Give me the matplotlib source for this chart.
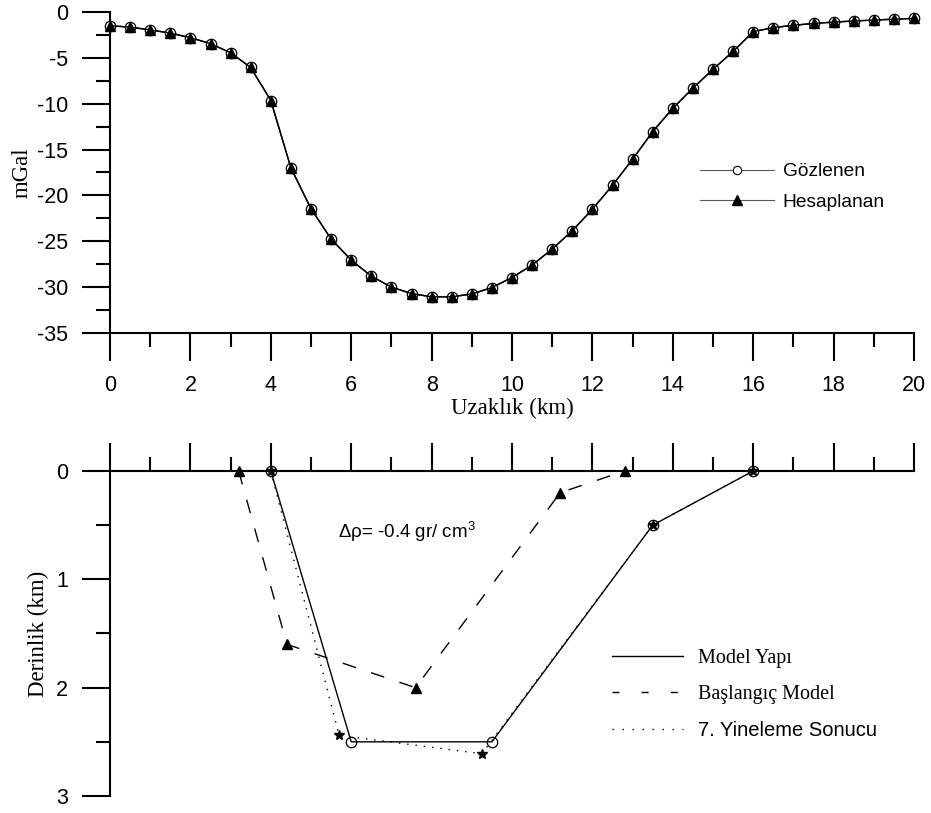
import matplotlib
matplotlib.use('Agg')
import matplotlib.pyplot as plt
from matplotlib.ticker import MultipleLocator, NullFormatter
from matplotlib.lines import Line2D

# ---------------- data ----------------
distance_km = [0, 0.5, 1, 1.5, 2, 2.5, 3, 3.5, 4, 4.5, 5, 5.5, 6, 6.5, 7, 7.5,
               8, 8.5, 9, 9.5, 10, 10.5, 11, 11.5, 12, 12.5, 13, 13.5, 14, 14.5,
               15, 15.5, 16, 16.5, 17, 17.5, 18, 18.5, 19, 19.5, 20]
observed_mgal = [-1.5, -1.65, -1.95, -2.3, -2.8, -3.45, -4.45, -6.05, -9.65, -17.0,
                 -21.45, -24.75, -27.05, -28.8, -30.0, -30.7, -31.05, -31.05, -30.75,
                 -30.05, -28.95, -27.6, -25.85, -23.85, -21.5, -18.9, -16.05, -13.05,
                 -10.5, -8.3, -6.25, -4.3, -2.15, -1.7, -1.45, -1.25, -1.1, -0.98,
                 -0.88, -0.78, -0.7]
calculated_mgal = [-1.5, -1.65, -1.95, -2.3, -2.8, -3.45, -4.45, -6.05, -9.65, -17.0,
                   -21.45, -24.75, -27.05, -28.8, -30.0, -30.7, -31.05, -31.05, -30.75,
                   -30.05, -28.95, -27.6, -25.85, -23.85, -21.5, -18.9, -16.05, -13.05,
                   -10.5, -8.3, -6.25, -4.3, -2.15, -1.7, -1.45, -1.25, -1.1, -0.98,
                   -0.88, -0.78, -0.7]

model_x = [4, 6, 9.5, 13.5, 16]
model_z = [0, 2.5, 2.5, 0.5, 0]
initial_x = [3.2, 4.4, 7.6, 11.2, 12.8]
initial_z = [0, 1.6, 2.0, 0.2, 0]
iter7_x = [4, 5.7, 9.25, 13.5, 16]
iter7_z = [0, 2.44, 2.61, 0.5, 0]

x_ticks = [0, 2, 4, 6, 8, 10, 12, 14, 16, 18, 20]
mgal_ticks = [0, -5, -10, -15, -20, -25, -30, -35]
depth_ticks = [0, 1, 2, 3]

SANS = ['Liberation Sans', 'DejaVu Sans']
SERIF = ['Liberation Serif', 'DejaVu Serif']
plt.rcParams['font.family'] = SANS
plt.rcParams['axes.unicode_minus'] = False
plt.rcParams['mathtext.fontset'] = 'custom'
plt.rcParams['mathtext.rm'] = 'Liberation Sans'

W, H = 931, 813
fig = plt.figure(figsize=(W / 100, H / 100), dpi=100)

def frac(l, t, r, b):
    return [l / W, 1 - b / H, (r - l) / W, (b - t) / H]

TICK_FS = 15.5
LABEL_FS = 16.5
SPINE_LW = 1.5

# ---------------- top panel ----------------
ax1 = fig.add_axes(frac(110, 12, 914, 333))
ax1.plot(distance_km, observed_mgal, color='black', lw=1.0, marker='o', ms=7.5,
         mfc='white', mec='black', mew=0.9, clip_on=False, zorder=3)
ax1.plot(distance_km, calculated_mgal, color='black', lw=1.0, marker='^', ms=6.5,
         mfc='black', mec='black', clip_on=False, zorder=4)
ax1.set_xlim(0, 20)
ax1.set_ylim(-35, 0)
ax1.set_xticks(x_ticks)
ax1.set_yticks(mgal_ticks)
ax1.xaxis.set_minor_locator(MultipleLocator(1))
ax1.yaxis.set_minor_locator(MultipleLocator(2.5))
for s in ['top', 'right']:
    ax1.spines[s].set_visible(False)
for s in ['left', 'bottom']:
    ax1.spines[s].set_linewidth(SPINE_LW)
ax1.tick_params(which='major', direction='out', length=20, width=SPINE_LW,
                labelsize=TICK_FS)
ax1.tick_params(which='minor', direction='out', length=10, width=SPINE_LW)
ax1.tick_params(axis='x', which='major', pad=10)
ax1.tick_params(axis='y', which='major', pad=10)
ax1.set_xlabel('Uzaklık (km)', family=SERIF, fontsize=LABEL_FS)
ax1.xaxis.label.set_va('center')
ax1.xaxis.set_label_coords(0.5, -0.234)
ax1.set_ylabel('mGal', family=SERIF, fontsize=LABEL_FS)
ax1.yaxis.label.set_va('center')
ax1.yaxis.set_label_coords(-0.1095, 0.5)

h_obs = Line2D([], [], color='0.35', lw=0.8, marker='o', ms=6, mfc='white', mec='black', mew=0.8)
h_cal = Line2D([], [], color='0.35', lw=0.8, marker='^', ms=7, mfc='black', mec='black')
leg1 = ax1.legend([h_obs, h_cal], ['Gözlenen', 'Hesaplanan'], loc='upper left',
                  bbox_to_anchor=(700 / W, 1 - 163 / H), bbox_transform=fig.transFigure,
                  frameon=False, fontsize=13.8, handlelength=3.85, handletextpad=0.47,
                  labelspacing=0.68, borderpad=0, borderaxespad=0)

# ---------------- bottom panel ----------------
ax2 = fig.add_axes(frac(110, 471, 914, 796))
ax2.plot(model_x, model_z, color='black', lw=1.0, marker='o', ms=7.5, mfc='none',
         mec='black', mew=0.9, clip_on=False, zorder=3, label='Model Yapı')
ax2.plot(initial_x, initial_z, color='black', lw=1.0, ls=(0, (10, 11.5)), marker='^', ms=7.5,
         mfc='black', mec='black', clip_on=False, zorder=4, label='Başlangıç Model')
ax2.plot(iter7_x, iter7_z, color='black', lw=1.0, ls=(0, (1, 5)), marker='*', ms=7.5,
         mfc='black', mec='black', clip_on=False, zorder=5, label='7. Yineleme Sonucu')
ax2.set_xlim(0, 20)
ax2.set_ylim(3, 0)
ax2.xaxis.tick_top()
ax2.set_xticks(x_ticks)
ax2.xaxis.set_minor_locator(MultipleLocator(1))
ax2.xaxis.set_major_formatter(NullFormatter())
ax2.set_yticks(depth_ticks)
ax2.yaxis.set_minor_locator(MultipleLocator(0.5))
for s in ['bottom', 'right']:
    ax2.spines[s].set_visible(False)
for s in ['left', 'top']:
    ax2.spines[s].set_linewidth(SPINE_LW)
ax2.tick_params(which='major', direction='out', length=20, width=SPINE_LW,
                labelsize=TICK_FS, pad=10)
ax2.tick_params(which='minor', direction='out', length=10, width=SPINE_LW)
ax2.set_ylabel('Derinlik (km)', family=SERIF, fontsize=LABEL_FS)
ax2.yaxis.label.set_va('center')
ax2.yaxis.set_label_coords(-0.0896, 0.5)

ax2.text(5.67, 0.62, 'Δρ= -0.4 gr/ cm$^{3}$', fontsize=13.5, va='baseline', ha='left')

h_mod = Line2D([], [], color='black', lw=1.0)
h_ini = Line2D([], [], color='black', lw=1.0, ls=(0, (5, 16)))
h_it7 = Line2D([], [], color='black', lw=1.0, ls=(0, (1, 6.2)))
leg2 = ax2.legend([h_mod, h_ini, h_it7], ['Model Yapı', 'Başlangıç Model', '7. Yineleme Sonucu'],
                  loc='upper left', bbox_to_anchor=(612 / W, 1 - 649 / H),
                  bbox_transform=fig.transFigure, frameon=False, fontsize=14.5,
                  handlelength=3.53, handletextpad=0.72, labelspacing=0.84,
                  borderpad=0, borderaxespad=0)
txts = leg2.get_texts()
txts[0].set_family(SERIF)
txts[1].set_family(SERIF)
txts[2].set_family(SANS)

fig.savefig('out.png', dpi=100)
